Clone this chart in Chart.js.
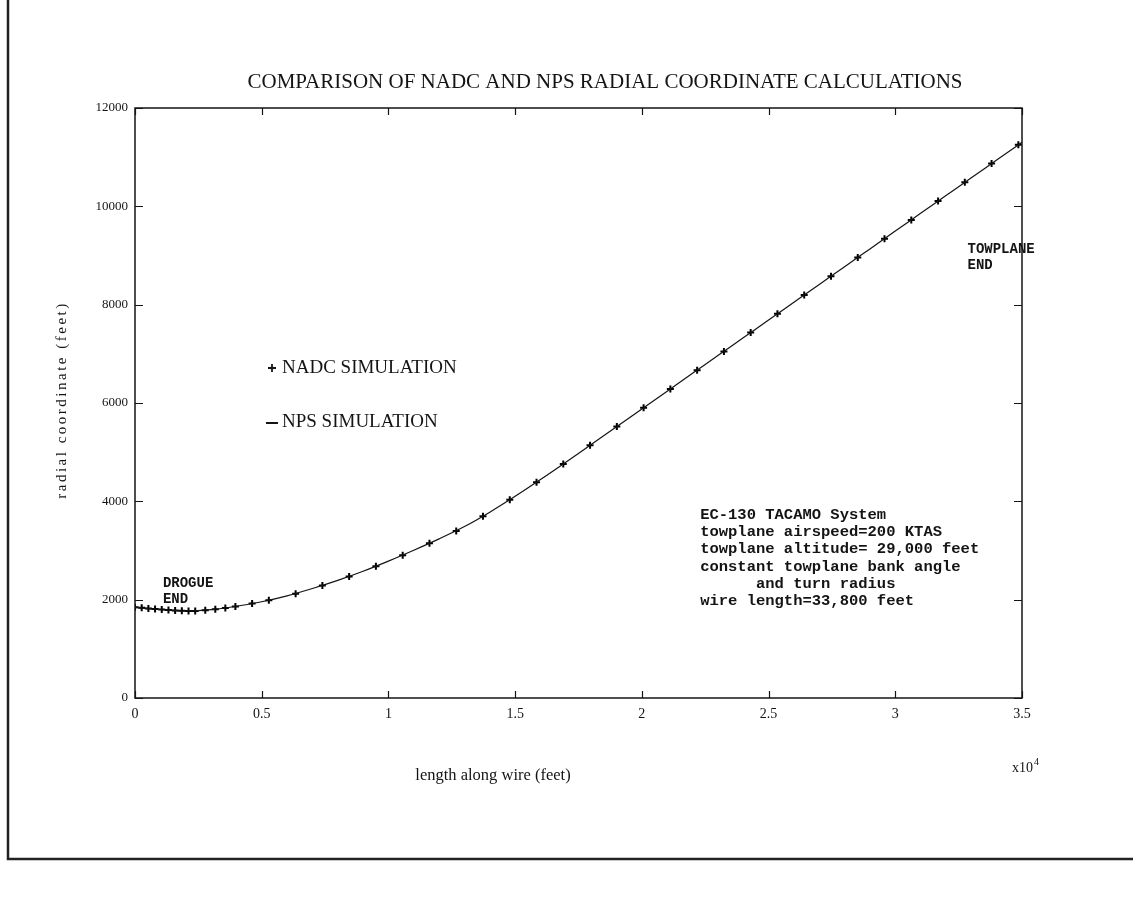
<!DOCTYPE html>
<html>
<head>
<meta charset="utf-8">
<script src="https://cdn.jsdelivr.net/npm/chart.js@4.4.1/dist/chart.umd.min.js"></script>
<style>
  html, body { margin: 0; padding: 0; background: #ffffff; }
  #wrap { width: 1133px; height: 906px; position: relative; }
</style>
</head>
<body>
<div id="wrap"><canvas id="c" width="1133" height="906"></canvas></div>
<script>
// NADC simulation nodes: length along wire (ft) and radial coordinate (ft)
const nadcLength = [0, 264, 528, 792, 1056, 1320, 1584, 1848, 2112, 2376, 2773, 3169, 3565, 3961,
  4621, 5281, 6338, 7394, 8450, 9506, 10563, 11619, 12675, 13731, 14788, 15844, 16900, 17956,
  19013, 20069, 21125, 22181, 23238, 24294, 25350, 26406, 27463, 28519, 29575, 30631, 31688,
  32744, 33800, 34856];
const nadcRadius = [1845, 1834, 1822, 1810, 1798, 1788, 1780, 1774, 1771, 1772, 1784, 1806, 1832, 1863,
  1922, 1988, 2120, 2290, 2470, 2680, 2905, 3148, 3395, 3695, 4030, 4388, 4760, 5140,
  5522, 5904, 6286, 6668, 7050, 7432, 7814, 8196, 8578, 8960, 9342, 9724, 10106,
  10488, 10870, 11252];

// NPS simulation curve
const npsLength = [0, 1000, 2000, 3000, 4000, 5000, 6000, 7000, 8000, 9000, 10000, 11000, 12000,
  13000, 14000, 15000, 16000, 17000, 18000, 19000, 20000, 21000, 22000, 23000, 24000, 25000,
  26000, 27000, 28000, 29000, 30000, 31000, 32000, 33000, 34000, 35000];
const npsRadius = [1845, 1800, 1773, 1797, 1866, 1958, 2078, 2227, 2393, 2579, 2785, 3006, 3237,
  3487, 3780, 4102, 4443, 4796, 5156, 5517, 5879, 6241, 6603, 6964, 7326, 7687,
  8049, 8411, 8772, 9134, 9496, 9857, 10219, 10581, 10942, 11304];

// Axis ticks
const xTickValues = [0, 5000, 10000, 15000, 20000, 25000, 30000, 35000];
const xTickLabels = ['0', '0.5', '1', '1.5', '2', '2.5', '3', '3.5'];
const yTickValues = [0, 2000, 4000, 6000, 8000, 10000, 12000];

// Texts
const chartTitle = 'COMPARISON OF NADC AND NPS RADIAL COORDINATE CALCULATIONS';
const xTitle = 'length along wire (feet)';
const yTitle = 'radial coordinate (feet)';
const legendNadc = 'NADC SIMULATION';
const legendNps = 'NPS SIMULATION';
const drogueLabel = ['DROGUE', 'END'];
const towplaneLabel = ['TOWPLANE', 'END'];
const systemNote = [
  'EC-130 TACAMO System',
  'towplane airspeed=200 KTAS',
  'towplane altitude= 29,000 feet',
  'constant towplane bank angle',
  '      and turn radius',
  'wire length=33,800 feet'
];

const INK = '#141414';
const SERIF = '"Liberation Serif", "DejaVu Serif", serif';
const MONO = '"Liberation Mono", "DejaVu Sans Mono", monospace';

const decor = {
  id: 'decor',
  afterDraw(chart) {
    const ctx = chart.ctx;
    const a = chart.chartArea;
    const xs = chart.scales.x, ys = chart.scales.y;
    ctx.save();

    // page border (left and bottom)
    ctx.strokeStyle = '#222';
    ctx.lineWidth = 2.5;
    ctx.beginPath();
    ctx.moveTo(8, 0);
    ctx.lineTo(8, 859);
    ctx.lineTo(1133, 859);
    ctx.stroke();

    // plot frame
    ctx.strokeStyle = INK;
    ctx.lineWidth = 1.5;
    ctx.strokeRect(a.left, a.top, a.right - a.left, a.bottom - a.top);

    // inward tick marks on all four sides
    ctx.lineWidth = 1.2;
    ctx.beginPath();
    xTickValues.forEach(v => {
      const px = Math.round(xs.getPixelForValue(v)) + 0.5;
      ctx.moveTo(px, a.bottom); ctx.lineTo(px, a.bottom - 7);
      ctx.moveTo(px, a.top); ctx.lineTo(px, a.top + 7);
    });
    yTickValues.forEach(v => {
      const py = Math.round(ys.getPixelForValue(v)) + 0.5;
      ctx.moveTo(a.left, py); ctx.lineTo(a.left + 8, py);
      ctx.moveTo(a.right, py); ctx.lineTo(a.right - 8, py);
    });
    ctx.stroke();

    ctx.fillStyle = INK;
    ctx.textBaseline = 'middle';

    // title
    ctx.font = '21px ' + SERIF;
    ctx.textAlign = 'center';
    ctx.fillText(chartTitle, 605, 82);

    // axis titles
    ctx.font = '16.5px ' + SERIF;
    ctx.fillText(xTitle, 493, 776);
    ctx.save();
    ctx.translate(62, 400);
    ctx.rotate(-Math.PI / 2);
    ctx.font = '15px ' + SERIF;
    ctx.letterSpacing = '2.5px';
    ctx.fillText(yTitle, 0, 0);
    ctx.restore();

    // exponent of the x axis
    ctx.textAlign = 'left';
    ctx.font = '14px ' + SERIF;
    ctx.fillText('x10', 1012, 768);
    ctx.font = '10px ' + SERIF;
    ctx.fillText('4', 1034, 762);

    // legend
    ctx.font = '19px ' + SERIF;
    ctx.fillText(legendNadc, 282, 368);
    ctx.fillText(legendNps, 282, 422);
    ctx.lineWidth = 1.8;
    ctx.beginPath();
    ctx.moveTo(268, 368); ctx.lineTo(276, 368);
    ctx.moveTo(272, 364); ctx.lineTo(272, 372);
    ctx.moveTo(266, 423); ctx.lineTo(278, 423);
    ctx.stroke();

    // end labels
    ctx.font = 'bold 14px ' + MONO;
    ctx.fillText(drogueLabel[0], xs.getPixelForValue(1100), ys.getPixelForValue(2330));
    ctx.fillText(drogueLabel[1], xs.getPixelForValue(1100), ys.getPixelForValue(2000));
    ctx.fillText(towplaneLabel[0], xs.getPixelForValue(32850), ys.getPixelForValue(9130));
    ctx.fillText(towplaneLabel[1], xs.getPixelForValue(32850), ys.getPixelForValue(8800));

    // system description block
    ctx.font = 'bold 15.5px ' + MONO;
    const bx = xs.getPixelForValue(22300);
    const by = ys.getPixelForValue(3720);
    systemNote.forEach((line, i) => ctx.fillText(line, bx, by + i * 17.2));

    ctx.restore();
  }
};

new Chart(document.getElementById('c'), {
  type: 'scatter',
  data: {
    datasets: [
      {
        label: legendNps,
        data: npsLength.map((x, i) => ({ x, y: npsRadius[i] })),
        showLine: true,
        borderColor: INK,
        borderWidth: 1.2,
        pointRadius: 0,
        cubicInterpolationMode: 'monotone',
        fill: false
      },
      {
        label: legendNadc,
        data: nadcLength.map((x, i) => ({ x, y: nadcRadius[i] })),
        showLine: false,
        pointStyle: 'cross',
        pointRadius: 3.5,
        borderWidth: 2,
        borderColor: '#000',
        backgroundColor: '#000'
      }
    ]
  },
  options: {
    responsive: false,
    devicePixelRatio: 1,
    animation: false,
    layout: { padding: { left: 0, top: 108, right: 111, bottom: 148 } },
    plugins: { legend: { display: false }, tooltip: { enabled: false }, title: { display: false } },
    scales: {
      x: {
        type: 'linear', min: 0, max: 35000,
        grid: { display: false, drawTicks: false },
        border: { display: false },
        afterBuildTicks: s => { s.ticks = xTickValues.map(v => ({ value: v })); },
        afterFit: s => { s.height = 60; },
        ticks: {
          padding: 8, color: INK, maxRotation: 0, autoSkip: false,
          font: { family: SERIF, size: 14 },
          callback: v => xTickLabels[xTickValues.indexOf(v)]
        }
      },
      y: {
        type: 'linear', min: 0, max: 12000,
        grid: { display: false, drawTicks: false },
        border: { display: false },
        afterBuildTicks: s => { s.ticks = yTickValues.map(v => ({ value: v })); },
        afterFit: s => { s.width = 135; },
        ticks: {
          padding: 7, color: INK, autoSkip: false,
          font: { family: SERIF, size: 13 },
          callback: v => String(v)
        }
      }
    }
  },
  plugins: [decor]
});
</script>
</body>
</html>
